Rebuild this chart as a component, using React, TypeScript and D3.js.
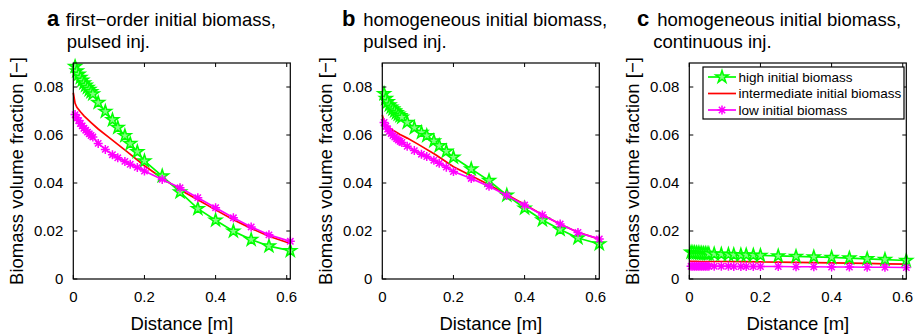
import * as d3 from "d3"

// distances of the marked nodes [m]
const dist = [0.005, 0.01, 0.015, 0.02, 0.025, 0.03, 0.035, 0.04, 0.045, 0.05, 0.055,
    0.07, 0.09, 0.11, 0.125, 0.145, 0.16, 0.18, 0.2,
    0.25, 0.3, 0.35, 0.4, 0.45, 0.5, 0.55, 0.61]
// red curve has no markers, sampled separately
const distRed = [0, 0.005, 0.01, 0.02, 0.03, 0.05, 0.07, 0.1, 0.15, 0.2, 0.25, 0.3, 0.35, 0.4, 0.45, 0.5, 0.55, 0.61]

const highA = [0.0885, 0.0867, 0.0853, 0.0840, 0.0828, 0.0817, 0.0807, 0.0798, 0.0789, 0.0780, 0.0771,
    0.0735, 0.0698, 0.0663, 0.0631, 0.0597, 0.0564, 0.0530, 0.0492,
    0.0429, 0.0362, 0.0293, 0.0245, 0.0199, 0.0164, 0.0137, 0.0118]
const midA = [0.0776, 0.0732, 0.0715, 0.0697, 0.0680, 0.0652, 0.0625, 0.0590, 0.0532, 0.0472, 0.0420, 0.0372, 0.0330, 0.0288, 0.0247, 0.0211, 0.0178, 0.0148]
const lowA = [0.0685, 0.0672, 0.0660, 0.0648, 0.0638, 0.0628, 0.0620, 0.0612, 0.0605, 0.0598, 0.0592,
    0.0565, 0.0540, 0.0518, 0.0505, 0.0490, 0.0478, 0.0465, 0.0450,
    0.0415, 0.0380, 0.0339, 0.0297, 0.0255, 0.0217, 0.0184, 0.0157]

const highB = [0.0772, 0.0752, 0.0738, 0.0725, 0.0716, 0.0708, 0.0700, 0.0693, 0.0686, 0.0680, 0.0674,
    0.0652, 0.0630, 0.0610, 0.0597, 0.0575, 0.0555, 0.0532, 0.0507,
    0.0458, 0.0410, 0.0349, 0.0295, 0.0246, 0.0206, 0.0171, 0.0146]
const midB = [0.0683, 0.0655, 0.0642, 0.0630, 0.0620, 0.0602, 0.0587, 0.0562, 0.0518, 0.0468, 0.0430, 0.0393, 0.0352, 0.0310, 0.0268, 0.0228, 0.0195, 0.0166]
const lowB = [0.0652, 0.0637, 0.0625, 0.0615, 0.0606, 0.0598, 0.0591, 0.0585, 0.0579, 0.0574, 0.0569,
    0.0553, 0.0535, 0.0520, 0.0510, 0.0495, 0.0482, 0.0466, 0.0448,
    0.0419, 0.0386, 0.0348, 0.0308, 0.0267, 0.0229, 0.0194, 0.0167]

const highC = [0.0111, 0.0110, 0.0109, 0.0108, 0.0108, 0.0107, 0.0107, 0.0106, 0.0106, 0.0105, 0.0105,
    0.0104, 0.0103, 0.0102, 0.0101, 0.0100, 0.0100, 0.0099, 0.0098,
    0.0096, 0.0094, 0.0092, 0.0090, 0.0087, 0.0084, 0.0081, 0.0077]
const midC = [0.0075, 0.0074, 0.0074, 0.0074, 0.0073, 0.0073, 0.0073, 0.0073, 0.0072, 0.0071, 0.0070, 0.0069, 0.0068, 0.0067, 0.0066, 0.0065, 0.0063, 0.0062]
const lowC = [0.0053, 0.0053, 0.0053, 0.0053, 0.0053, 0.0053, 0.0053, 0.0053, 0.0053, 0.0053, 0.0053,
    0.0053, 0.0053, 0.0053, 0.0052, 0.0052, 0.0052, 0.0052, 0.0052,
    0.0052, 0.0051, 0.0051, 0.0050, 0.0050, 0.0049, 0.0049, 0.0048]

const xTicks = [0, 0.2, 0.4, 0.6]
const yTicks = [0, 0.02, 0.04, 0.06, 0.08]
const legendLabels = ["high initial biomass", "intermediate initial biomass", "low initial biomass"]

const panels = [
    { letter: "a", line1: "first\u2212order initial biomass,", line2: "pulsed inj.", high: highA, mid: midA, low: lowA },
    { letter: "b", line1: "homogeneous initial biomass,", line2: "pulsed inj.", high: highB, mid: midB, low: lowB },
    { letter: "c", line1: "homogeneous initial biomass,", line2: "continuous inj.", high: highC, mid: midC, low: lowC },
]

const GREEN = "#00ff00"
const RED = "#ff0000"
const MAGENTA = "#ff00ff"
const FONT = "'Liberation Sans', Arial, sans-serif"

const lefts = [73.3, 382.3, 689.3]
const plotW = 217
const top = 63
const bottom = 279

const starPath = d3.symbol().type(d3.symbolStar).size(48)()
const asterisk = (r) => {
    const d = r * 0.7071
    return `M${-r},0L${r},0M0,${-r}L0,${r}M${-d},${-d}L${d},${d}M${-d},${d}L${d},${-d}`
}

const Panel = ({ p, i }) => {
    const left = lefts[i]
    const x = d3.scaleLinear().domain([0, 0.61]).range([left, left + plotW])
    const y = d3.scaleLinear().domain([0, 0.09]).range([bottom, top])
    const line = d3.line<number>().x((_, k) => x(dist[k])).y(v => y(v))
    const lineRed = d3.line<number>().x((_, k) => x(distRed[k])).y(v => y(v))

    const titleX = [47, 342, 637][i]
    const textX = [65.7, 363.3, 657.3][i]
    const line2X = [66.7, 363.3, 653.3][i]

    return (
        <g>
            {/* title */}
            <text x={titleX} y={26} fontSize={22} fontWeight="bold" fontFamily={FONT}>{p.letter}</text>
            <text x={textX} y={26} fontSize={18.5} fontFamily={FONT}>{p.line1}</text>
            <text x={line2X} y={48} fontSize={18.5} fontFamily={FONT}>{p.line2}</text>

            {/* data */}
            <path d={lineRed(p.mid)} fill="none" stroke={RED} strokeWidth={1.7} />
            <path d={line(p.high)} fill="none" stroke={GREEN} strokeWidth={1.7} />
            {p.high.map((v, k) => (
                <path key={"h" + k} d={starPath} transform={`translate(${x(dist[k])},${y(v)})`}
                    fill="#7fff7f" stroke={GREEN} strokeWidth={1.5} />
            ))}
            <path d={line(p.low)} fill="none" stroke={MAGENTA} strokeWidth={1.7} />
            {p.low.map((v, k) => (
                <path key={"l" + k} d={asterisk(4.5)} transform={`translate(${x(dist[k])},${y(v)})`}
                    fill="none" stroke={MAGENTA} strokeWidth={1.5} />
            ))}

            {/* box */}
            <rect x={left} y={top} width={plotW} height={bottom - top} fill="none" stroke="#000" strokeWidth={1.2} />

            {/* ticks */}
            {xTicks.map(t => (
                <g key={"x" + t}>
                    <line x1={x(t)} x2={x(t)} y1={bottom} y2={bottom - 4} stroke="#000" />
                    <line x1={x(t)} x2={x(t)} y1={top} y2={top + 4} stroke="#000" />
                    <text x={x(t)} y={302} textAnchor="middle" fontSize={15} fontFamily={FONT}>{t === 0 ? "0" : String(t)}</text>
                </g>
            ))}
            {yTicks.map(t => (
                <g key={"y" + t}>
                    <line x1={left} x2={left + 4} y1={y(t)} y2={y(t)} stroke="#000" />
                    <line x1={left + plotW} x2={left + plotW - 4} y1={y(t)} y2={y(t)} stroke="#000" />
                    <text x={left - 10} y={y(t)} dy="0.36em" textAnchor="end" fontSize={15} fontFamily={FONT}>{t === 0 ? "0" : t.toFixed(2)}</text>
                </g>
            ))}

            {/* axis labels */}
            <text x={left + plotW / 2} y={330} textAnchor="middle" fontSize={18.5} fontFamily={FONT}>Distance [m]</text>
            <text transform={`translate(${left - 50.5},${(top + bottom) / 2}) rotate(-90)`} textAnchor="middle"
                fontSize={18.5} fontFamily={FONT}>Biomass volume fraction [{"\u2212"}]</text>
        </g>
    )
}

const Legend = () => {
    const lx = 703, ly = 67, lw = 201, lh = 52
    const rows = [77, 93.5, 110]
    const colors = [GREEN, RED, MAGENTA]
    return (
        <g>
            <rect x={lx} y={ly} width={lw} height={lh} fill="#fff" stroke="#000" strokeWidth={1.2} />
            {legendLabels.map((lab, k) => (
                <g key={lab}>
                    <line x1={708} x2={736} y1={rows[k]} y2={rows[k]} stroke={colors[k]} strokeWidth={1.7} />
                    {k === 0 && <path d={starPath} transform={`translate(722,${rows[k]})`} fill="#7fff7f" stroke={GREEN} strokeWidth={1.5} />}
                    {k === 2 && <path d={asterisk(4.5)} transform={`translate(722,${rows[k]})`} fill="none" stroke={MAGENTA} strokeWidth={1.5} />}
                    <text x={738.5} y={rows[k]} dy="0.36em" fontSize={13.5} fontFamily={FONT}>{lab}</text>
                </g>
            ))}
        </g>
    )
}

export default function App() {
    return (
        <svg width={918} height={335} style={{ position: "absolute", left: 0, top: 0, background: "#fff" }}>
            {panels.map((p, i) => <Panel key={p.letter} p={p} i={i} />)}
            <Legend />
        </svg>
    )
}
